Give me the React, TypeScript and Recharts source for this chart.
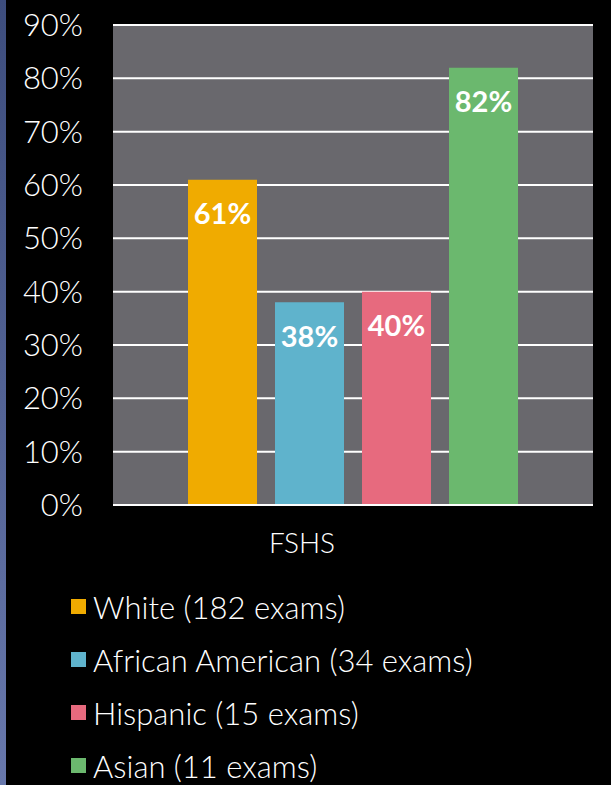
import React from "react";
import { BarChart, Bar, XAxis, YAxis, CartesianGrid, LabelList } from "recharts";

const categories = ["FSHS"];
const seriesNames = ["White (182 exams)", "African American (34 exams)", "Hispanic (15 exams)", "Asian (11 exams)"];
const seriesKeys = ["white", "africanAmerican", "hispanic", "asian"];
const seriesValues = [0.61, 0.38, 0.4, 0.82];
const seriesColors = ["#F0AB00", "#5FB3CC", "#E76A7E", "#6BB86E"];
const yTicks = [0, 0.1, 0.2, 0.3, 0.4, 0.5, 0.6, 0.7, 0.8, 0.9];

const data = categories.map((c) => {
  const row: Record<string, any> = { name: c };
  seriesKeys.forEach((k, i) => (row[k] = seriesValues[i]));
  return row;
});

const FONT = "Lato, 'Noto Sans', sans-serif";
const pct = (v: number) => `${Math.round(v * 100)}%`;

const YTick = (props: any) => {
  const { x, y, payload } = props;
  return (
    <text x={x} y={y} dy={11} textAnchor="end" fill="#fff" fontSize={31} fontFamily={FONT} fontWeight={300}>
      {pct(payload.value)}
    </text>
  );
};

const XTick = (props: any) => {
  const { x, y, payload } = props;
  return (
    <text x={x - 51} y={y} dy={40} textAnchor="middle" fill="#fff" fontSize={28} fontFamily={FONT} fontWeight={300}>
      {payload.value}
    </text>
  );
};

export default function App() {
  return (
    <div style={{ position: "absolute", left: 0, top: 0, width: 611, height: 785, background: "#000", overflow: "hidden" }}>
      <div
        style={{
          position: "absolute",
          left: 0,
          top: 0,
          width: 6,
          height: 785,
          background: "linear-gradient(#3d4d7d, #6878ac)",
        }}
      />
      <BarChart
        width={611}
        height={570}
        data={data}
        margin={{ top: 25, right: 18, left: 0, bottom: 0 }}
        barGap={18}
        barSize={69}
      >
        <CartesianGrid
          vertical={false}
          horizontal={true}
          fill="#69686D"
          stroke="#ffffff"
          strokeWidth={2}
          horizontalValues={yTicks}
        />
        <YAxis
          domain={[0, 0.9]}
          ticks={yTicks}
          width={113}
          axisLine={false}
          tickLine={false}
          tickSize={0}
          tickMargin={30}
          tick={<YTick />}
          interval={0}
        />
        <XAxis
          dataKey="name"
          height={65}
          axisLine={{ stroke: "#ffffff", strokeWidth: 2 }}
          tickLine={false}
          tick={<XTick />}
        />
        {seriesKeys.map((k, i) => (
          <Bar key={k} dataKey={k} name={seriesNames[i]} fill={seriesColors[i]} isAnimationActive={false}>
            <LabelList
              dataKey={k}
              position="insideTop"
              offset={24}
              formatter={(v: any) => pct(Number(v))}
              fill="#fff"
              fontSize={29}
              fontWeight={700}
              fontFamily={FONT}
            />
          </Bar>
        ))}
      </BarChart>
      <div style={{ position: "absolute", left: 71, top: 580, fontFamily: FONT, color: "#fff" }}>
        {seriesNames.map((n, i) => (
          <div key={n} style={{ display: "flex", alignItems: "center", height: 53 }}>
            <div style={{ width: 15, height: 15, background: seriesColors[i], marginRight: 7 }} />
            <span style={{ fontSize: 31, fontWeight: 300, whiteSpace: "nowrap" }}>{n}</span>
          </div>
        ))}
      </div>
    </div>
  );
}
